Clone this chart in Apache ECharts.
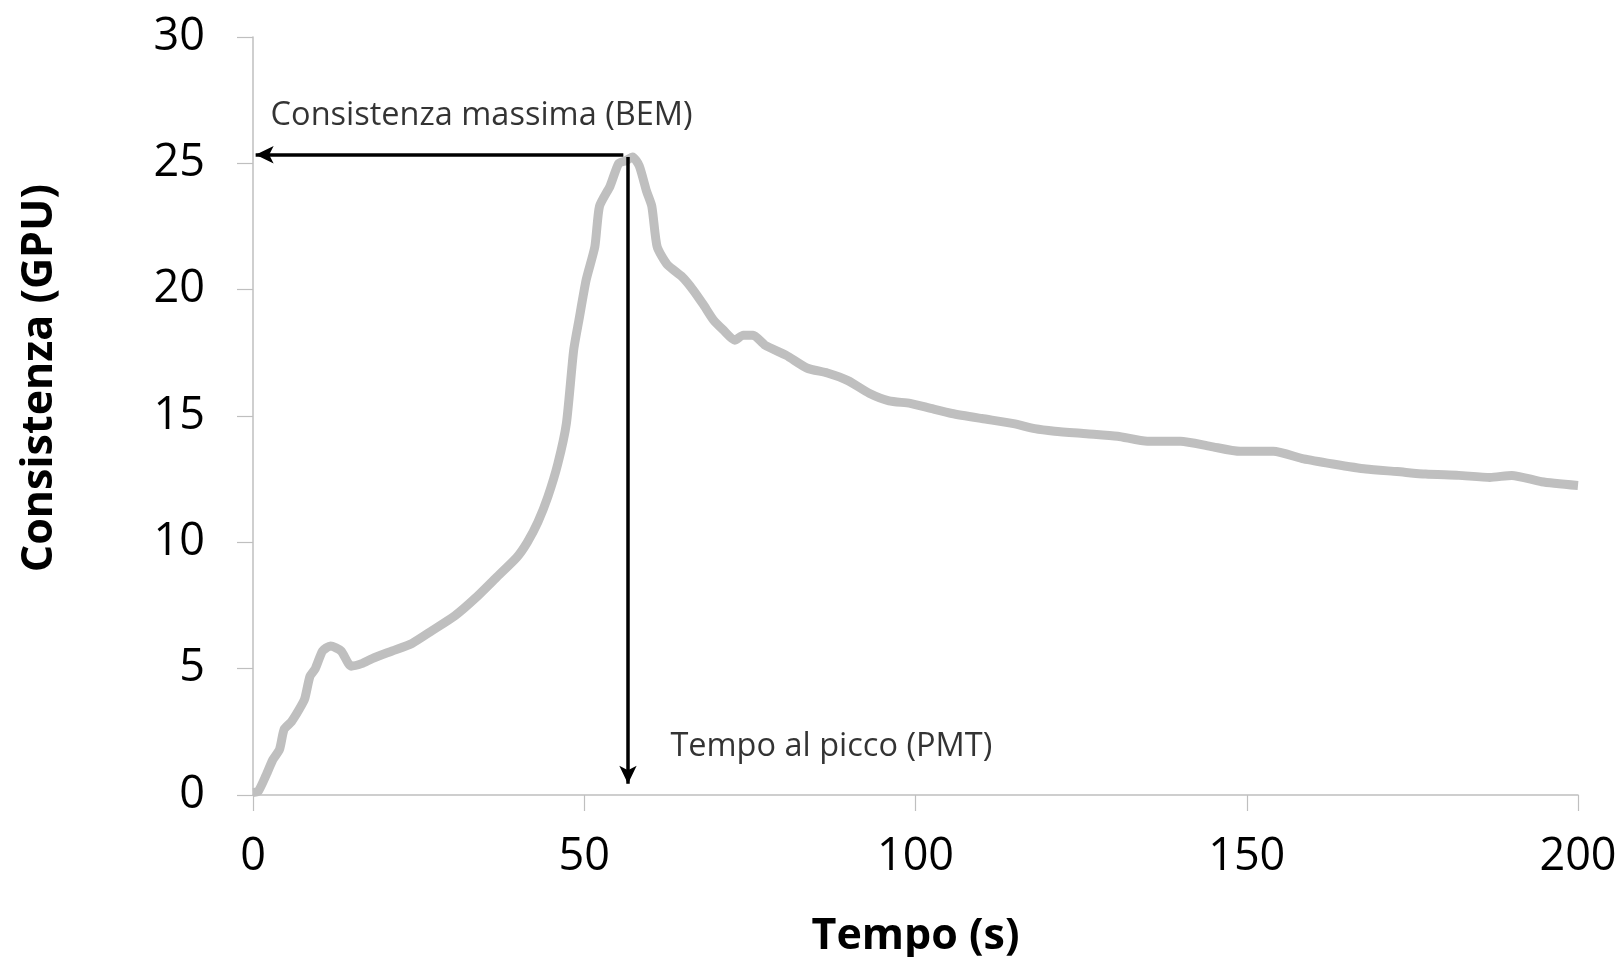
<!DOCTYPE html>
<html>
<head>
<meta charset="utf-8">
<script src="https://cdn.jsdelivr.net/npm/echarts@6/dist/echarts.min.js"></script>
<style>html,body{margin:0;padding:0;background:#fff}#c{width:1621px;height:957px}</style>
</head>
<body>
<div id="c"></div>
<script>
const tempo = [0,0.8,2,3,4,4.7,5.8,7,7.8,8.6,9.4,10.5,11.7,13.3,14.8,16.4,18,21,24,27,30.5,33.6,36.7,39.8,41.4,43,44.5,46,47.3,48.4,49.2,50.3,51.6,52.3,53.9,55.2,56.25,57.3,58.3,59.4,60.2,61,62.5,64.8,66.4,68,69.5,71,72.7,74,75.5,77.3,80.5,83.6,86.7,89.8,93,96,99.2,102.3,105.5,110,114.8,118,121,125.8,130.5,135,140,144.5,149,154,158.6,163,168,172.7,177,182,186.7,190,194.5,200];
const consistenza = [0.1,0.15,0.8,1.4,1.8,2.6,2.9,3.4,3.8,4.7,5.0,5.7,5.9,5.7,5.1,5.2,5.4,5.7,6.0,6.5,7.1,7.8,8.6,9.4,10.0,10.8,11.8,13.1,14.7,17.6,18.8,20.4,21.7,23.3,24.1,25.0,25.1,25.25,24.9,23.9,23.3,21.7,21.0,20.5,20.0,19.4,18.8,18.4,18.0,18.2,18.2,17.8,17.4,16.9,16.7,16.4,15.9,15.6,15.5,15.3,15.1,14.9,14.7,14.5,14.4,14.3,14.2,14.0,14.0,13.8,13.6,13.6,13.3,13.1,12.9,12.8,12.7,12.65,12.57,12.65,12.4,12.25];
const xTicks = [0,50,100,150,200];
const yTicks = [0,5,10,15,20,25,30];
const bemLabel = 'Consistenza massima (BEM)';
const pmtLabel = 'Tempo al picco (PMT)';
const bemArrow = [[55.9,25.34],[0.4,25.34]];
const pmtArrow = [[56.6,25.25],[56.6,0.45]];
const labelPoints = [[2.66,26.9,bemLabel],[63.0,1.92,pmtLabel]];

const font = 'Open Sans';
const chart = echarts.init(document.getElementById('c'));
chart.setOption({
  animation:false,
  grid:{left:253,right:43,top:37,bottom:162,containLabel:false,outerBoundsMode:'none'},
  xAxis:{
    type:'value',min:xTicks[0],max:xTicks[xTicks.length-1],interval:50,
    name:'Tempo (s)',nameLocation:'middle',nameGap:120,
    nameTextStyle:{fontFamily:font,fontSize:43,fontWeight:'bold',color:'#000'},
    axisLine:{lineStyle:{color:'#bfbfbf',width:1.5}},
    axisTick:{show:true,length:16,lineStyle:{color:'#bfbfbf',width:1.2}},
    axisLabel:{fontFamily:font,fontSize:45,color:'#000',margin:40},
    splitLine:{show:false}
  },
  yAxis:{
    type:'value',min:yTicks[0],max:yTicks[yTicks.length-1],interval:5,
    name:'Consistenza (GPU)',nameLocation:'middle',nameGap:192,
    nameTextStyle:{fontFamily:font,fontSize:43,fontWeight:'bold',color:'#000',padding:[0,0,0,76]},
    axisLine:{show:true,lineStyle:{color:'#bfbfbf',width:1.5}},
    axisTick:{show:true,length:16,lineStyle:{color:'#bfbfbf',width:1.2}},
    axisLabel:{fontFamily:font,fontSize:45,color:'#000',margin:48},
    splitLine:{show:false}
  },
  series:[
    {
      type:'line',data:tempo.map((t,i)=>[t,consistenza[i]]),
      showSymbol:false,smooth:0.2,
      lineStyle:{color:'#bfbfbf',width:9},z:2
    },
    {
      type:'line',data:[],z:5,
      markLine:{
        silent:true,symbol:['none','arrow'],symbolSize:[13,18],
        label:{show:false},
        lineStyle:{color:'#000',width:3.5,type:'solid'},
        data:[
          [{coord:bemArrow[0]},{coord:bemArrow[1]}],
          [{coord:pmtArrow[0]},{coord:pmtArrow[1]}]
        ]
      }
    },
    {
      type:'scatter',data:labelPoints,symbolSize:0,z:6,
      label:{show:true,position:'right',distance:0,formatter:p=>p.data[2],
        fontFamily:font,fontSize:32.5,color:'#000'}
    }
  ]
});
</script>
</body>
</html>
